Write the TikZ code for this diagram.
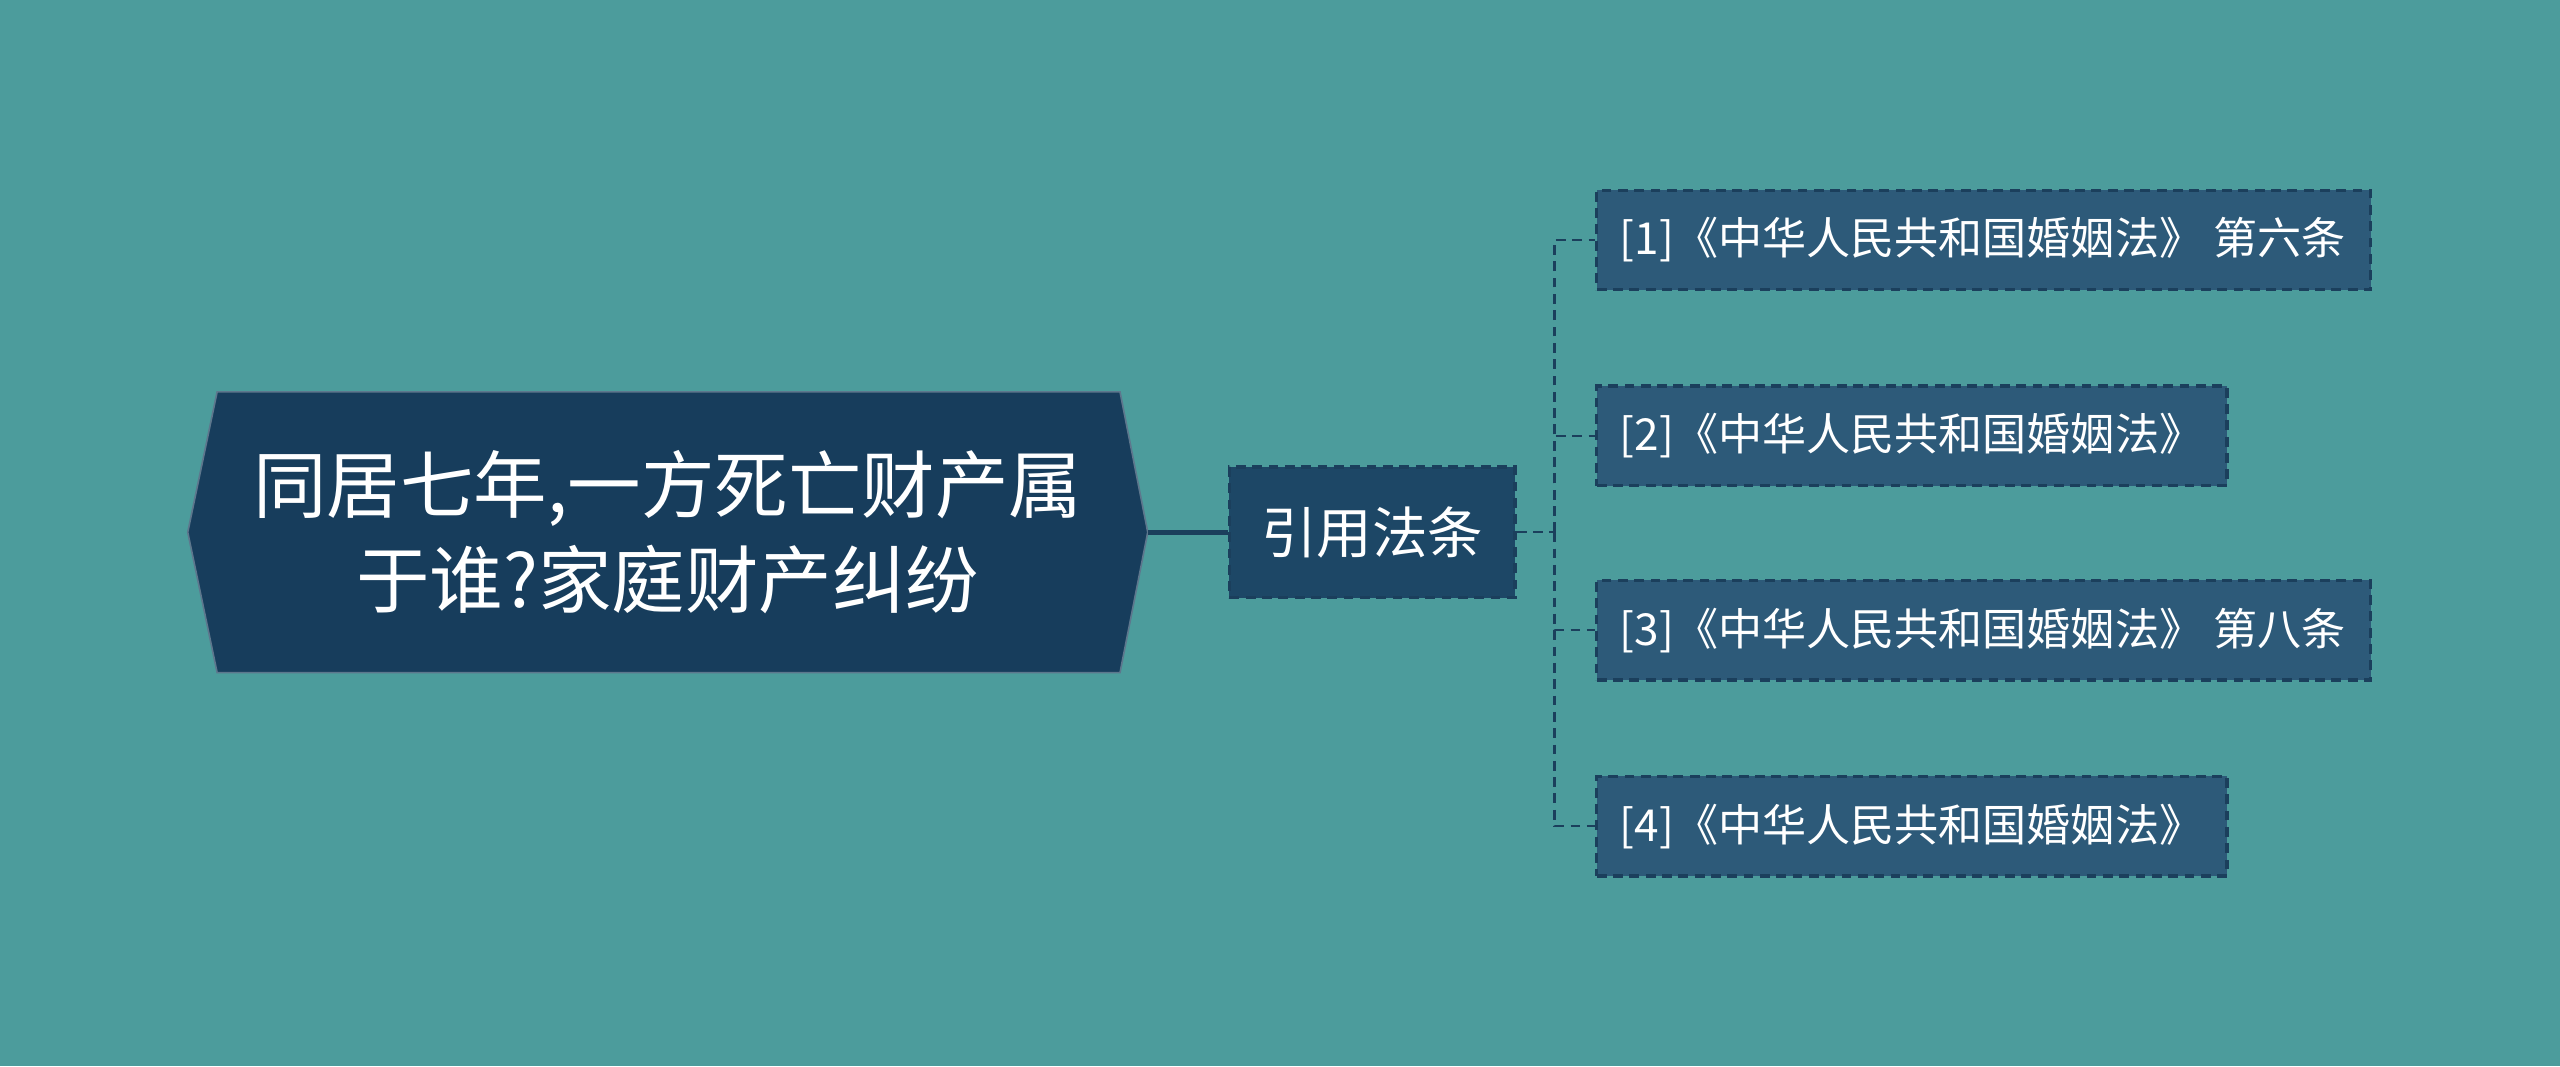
\documentclass[tikz,border=0pt]{standalone}
\usepackage{fontspec}
\setmainfont{Noto Sans CJK SC}
\usetikzlibrary{calc}
\definecolor{bg}{HTML}{4C9C9C}
\definecolor{rootc}{HTML}{173D5C}
\definecolor{midc}{HTML}{1D4766}
\definecolor{leafc}{HTML}{2D5A79}
\definecolor{edgec}{HTML}{1B3F5C}
\tikzset{
  midbox/.style={draw=edgec,fill=midc,line width=2pt,dash pattern=on 6pt off 4pt,minimum height=80pt,text=white,font=\fontsize{34}{38}\selectfont,inner sep=0pt},
  leafbox/.style={draw=edgec,fill=leafc,line width=2pt,dash pattern=on 6pt off 4pt,minimum height=61pt,inner sep=0pt,anchor=west},
  leaftext/.style={anchor=west,text=white,font=\fontsize{27}{30}\selectfont,inner sep=0pt},
  conn/.style={edgec,line width=1.5pt,dash pattern=on 6pt off 4pt}
}
\begin{document}
\begin{tikzpicture}[x=1pt,y=-1pt]
\fill[bg] (0,0) rectangle (1568,653);
\useasboundingbox (0,0) rectangle (1568,653);
\draw[fill=rootc,draw=rootc!70!white,line width=1pt] (115,326)--(133,240)--(686,240)--(703,326)--(686,412)--(133,412)--cycle;
\node[text=white,align=center,font=\fontsize{45}{58}\selectfont] (root) at (409,326) {同居七年,一方死亡财产属\\于谁?家庭财产纠纷};
\coordinate (rootr) at (703,326);
\node[midbox,minimum width=175pt] (mid) at (840.5,326) {引用法条};
\draw[edgec,line width=3pt] (rootr) -- (mid.west);
\node[leafbox,minimum width=474pt] (l1) at (977,147) {};
\node[leaftext] at (992,147) {[1]《中华人民共和国婚姻法》 第六条};
\node[leafbox,minimum width=386pt] (l2) at (977,267) {};
\node[leaftext] at (992,267) {[2]《中华人民共和国婚姻法》};
\node[leafbox,minimum width=474pt] (l3) at (977,386) {};
\node[leaftext] at (992,386) {[3]《中华人民共和国婚姻法》 第八条};
\node[leafbox,minimum width=386pt] (l4) at (977,506) {};
\node[leaftext] at (992,506) {[4]《中华人民共和国婚姻法》};
\coordinate (j) at (952,326);
\draw[conn] (mid.east) -- (j);
\foreach \n in {l1,l2,l3,l4}{\draw[conn] (j) |- (\n.west);}
\end{tikzpicture}
\end{document}
